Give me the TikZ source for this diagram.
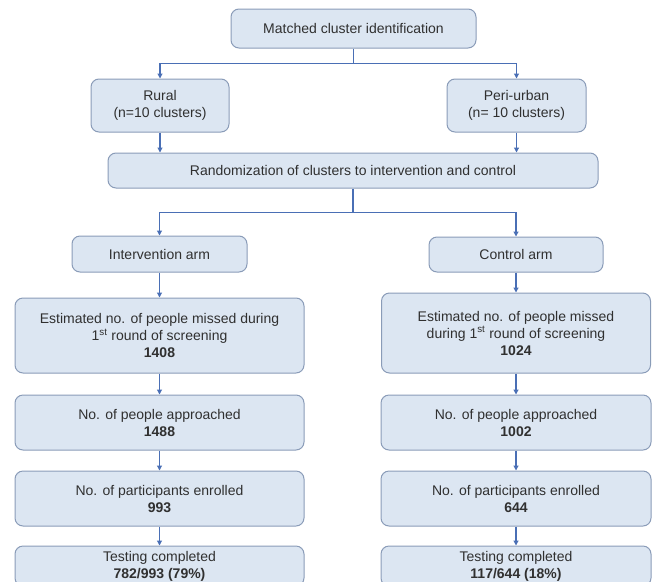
\documentclass[tikz,border=0pt]{standalone}
\usepackage{fontspec}
\setmainfont{Liberation Sans}
\usetikzlibrary{arrows.meta, positioning}
\definecolor{boxfill}{HTML}{DCE6F2}
\definecolor{boxline}{HTML}{8A9CB8}
\definecolor{arrowline}{HTML}{4A6FB5}
\definecolor{boxtext}{HTML}{303030}
\tikzset{
  box/.style={
    rectangle,
    rounded corners=8pt,
    draw=boxline,
    fill=boxfill,
    line width=1pt,
    align=center,
    inner sep=0pt,
    text=boxtext,
    font=\fontsize{14}{17}\selectfont
  },
  arrow/.style={-{Triangle[length=5pt, width=5pt]}, line width=1.1pt, draw=arrowline}
}

\begin{document}
\begin{tikzpicture}[x=1pt, y=1pt, node distance=20pt]
\useasboundingbox (0,0) rectangle (655,-581);
\node[box, minimum width=245pt, minimum height=39pt] (match) at (353.5,-28.5) {Matched cluster identification};
\node[box, minimum width=138pt, minimum height=53pt] (rural) at (160,-105.5) {Rural\\(n=10 clusters)};
\node[box, minimum width=139pt, minimum height=53pt] (peri) at (516.5,-105.5) {Peri-urban\\(n= 10 clusters)};
\node[box, minimum width=490pt, minimum height=35pt] (rand) at (353,-170.5) {Randomization of clusters to intervention and control};
\node[box, minimum width=175pt, minimum height=36pt] (interv) at (159.5,-254) {Intervention arm};
\node[box, minimum width=174pt, minimum height=35pt] (control) at (516,-254.5) {Control arm};

% intervention arm
\node[box, minimum width=289pt, minimum height=75pt, below=25pt of interv] (estint) {Estimated no. of people missed during\\1\textsuperscript{st} round of screening\\\textbf{1408}};
\node[box, minimum width=289pt, minimum height=55pt, below=21pt of estint] (apprint) {No. of people approached\\\textbf{1488}};
\node[box, minimum width=289pt, minimum height=55pt, below=of apprint] (enrint) {No. of participants enrolled\\\textbf{993}};
\node[box, minimum width=289pt, minimum height=40pt, below=19pt of enrint] (testint) {Testing completed\\\textbf{782/993 (79\%)}};

% control arm
\node[box, minimum width=269pt, minimum height=80pt, below=of control] (estcon) {Estimated no. of people missed\\during 1\textsuperscript{st} round of screening\\\textbf{1024}};
\node[box, minimum width=270pt, minimum height=55pt, below=21pt of estcon] (apprcon) {No. of people approached\\\textbf{1002}};
\node[box, minimum width=270pt, minimum height=55pt, below=of apprcon] (enrcon) {No. of participants enrolled\\\textbf{644}};
\node[box, minimum width=270pt, minimum height=40pt, below=19pt of enrcon] (testcon) {Testing completed\\\textbf{117/644 (18\%)}};

\coordinate[below=15pt of match] (split1);
\coordinate[below=24pt of rand] (split2);

\draw[arrow] (match) -- (split1) -| (rural);
\draw[arrow] (split1) -| (peri);
\draw[arrow] (rural) -- (rural |- rand.north);
\draw[arrow] (peri) -- (peri |- rand.north);
\draw[arrow] (rand) -- (split2) -| (interv);
\draw[arrow] (split2) -| (control);
\draw[arrow] (interv) -- (estint);
\draw[arrow] (estint) -- (apprint);
\draw[arrow] (apprint) -- (enrint);
\draw[arrow] (enrint) -- (testint);
\draw[arrow] (control) -- (estcon);
\draw[arrow] (estcon) -- (apprcon);
\draw[arrow] (apprcon) -- (enrcon);
\draw[arrow] (enrcon) -- (testcon);
\end{tikzpicture}
\end{document}
